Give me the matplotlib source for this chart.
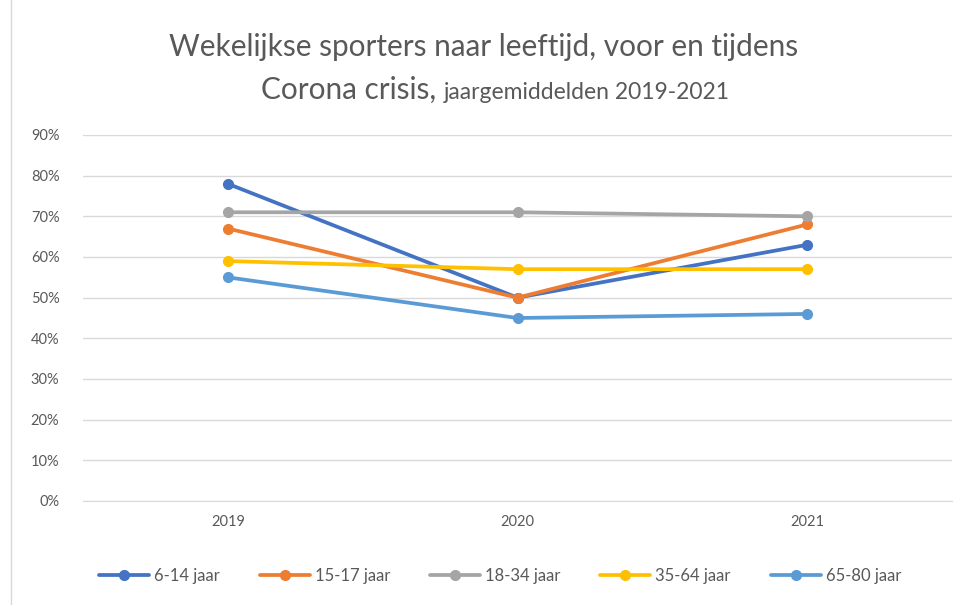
import matplotlib
matplotlib.use("Agg")
import matplotlib.pyplot as plt
from matplotlib.lines import Line2D
from matplotlib.ticker import FuncFormatter

years = ["2019", "2020", "2021"]
series_names = ["6-14 jaar", "15-17 jaar", "18-34 jaar", "35-64 jaar", "65-80 jaar"]
v_6_14 = [78, 50, 63]
v_15_17 = [67, 50, 68]
v_18_34 = [71, 71, 70]
v_35_64 = [59, 57, 57]
v_65_80 = [55, 45, 46]
values = [v_6_14, v_15_17, v_18_34, v_35_64, v_65_80]
colors = ["#4472C4", "#ED7D31", "#A5A5A5", "#FFC000", "#5B9BD5"]

plt.rcParams['font.family'] = ['Lato', 'DejaVu Sans']

fig = plt.figure(figsize=(9.73, 6.05), dpi=100)
ax = fig.add_axes([83/973, 1-501/605, (952-83)/973, (501-135)/605])

x = list(range(len(years)))
for name, vals, c in zip(series_names, values, colors):
    ax.plot(x, vals, color=c, lw=2.7, marker='o', ms=7, label=name,
            solid_capstyle='round', solid_joinstyle='round')

ax.set_xlim(-0.5, 2.5)
ax.set_ylim(0, 90)
ax.set_yticks(range(0, 91, 10))
ax.yaxis.set_major_formatter(FuncFormatter(lambda v, p: f"{int(v)}%"))
ax.set_xticks(x)
ax.set_xticklabels(years)
ax.grid(axis='y', color='#D9D9D9', lw=1)
ax.set_axisbelow(True)
for s in ['top', 'right', 'left']:
    ax.spines[s].set_visible(False)
ax.spines['bottom'].set_color('#D9D9D9')
ax.tick_params(axis='both', length=0, colors='#595959', labelsize=10.5)
ax.tick_params(axis='y', pad=17)
ax.tick_params(axis='x', pad=10)

fig.text(484/973, 1-47/605, "Wekelijkse sporters naar leeftijd, voor en tijdens",
         ha='center', va='center', fontsize=21.4, color='#595959')
fig.canvas.draw()
r = fig.canvas.get_renderer()
ta = fig.text(0, 0, "Corona crisis, ", ha='left', va='baseline', fontsize=21.4, color='#595959')
tb = fig.text(0, 0, "jaargemiddelden 2019-2021", ha='left', va='baseline', fontsize=16.5, color='#595959')
wa = ta.get_window_extent(r).width
wb = tb.get_window_extent(r).width
total = wa + wb
x0 = 495 - total/2
ta.set_position((x0/973, 1-99/605))
tb.set_position(((x0+wa)/973, 1-99/605))

fig.legend(loc='center', bbox_to_anchor=(500/973, 1-576/605), ncol=5, frameon=False,
           fontsize=12, labelcolor='#595959', handlelength=3.0, handletextpad=0.3,
           columnspacing=2.4)

fig.add_artist(Line2D([11/973, 11/973], [0, 1], transform=fig.transFigure,
                      color='#D9D9D9', lw=1))

fig.savefig("out.png", dpi=100)
